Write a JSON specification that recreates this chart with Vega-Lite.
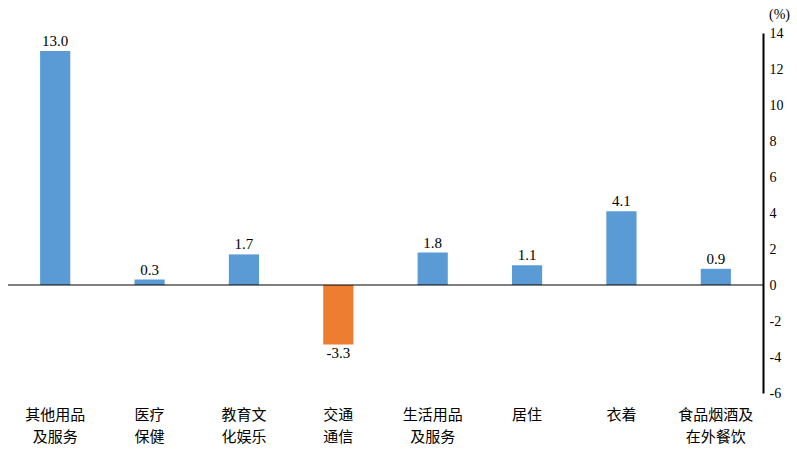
{
  "$schema": "https://vega.github.io/schema/vega-lite/v6.json",
  "width": 755,
  "height": 360,
  "autosize": "none",
  "padding": {"left": 8, "top": 33, "right": 34, "bottom": 58},
  "background": "white",
  "data": {
    "values": [
      {"cat": "其他用品|及服务", "v": 13.0},
      {"cat": "医疗|保健", "v": 0.3},
      {"cat": "教育文|化娱乐", "v": 1.7},
      {"cat": "交通|通信", "v": -3.3},
      {"cat": "生活用品|及服务", "v": 1.8},
      {"cat": "居住", "v": 1.1},
      {"cat": "衣着", "v": 4.1},
      {"cat": "食品烟酒及|在外餐饮", "v": 0.9}
    ]
  },
  "encoding": {
    "x": {
      "field": "cat", "type": "nominal", "sort": null, "title": null,
      "scale": {"paddingInner": 0.68, "paddingOuter": 0.34},
      "axis": {
        "labelExpr": "split(datum.label, '|')",
        "labelAngle": 0, "domain": false, "ticks": false,
        "labelPadding": 14, "labelFontSize": 15, "labelLineHeight": 22,
        "labelFont": "Noto Sans CJK SC", "labelColor": "black"
      }
    },
    "y": {
      "field": "v", "type": "quantitative",
      "scale": {"domain": [-6, 14], "nice": false},
      "axis": {
        "orient": "right", "values": [-6, -4, -2, 0, 2, 4, 6, 8, 10, 12, 14],
        "grid": false, "ticks": false, "domainColor": "black", "domainWidth": 2,
        "labelFontSize": 14, "labelColor": "black", "labelPadding": 6,
        "labelFont": "Liberation Serif",
        "title": "(%)", "titleAngle": 0, "titleFontSize": 14, "titleFontWeight": "normal",
        "titleFont": "Liberation Serif",
        "titleAnchor": "end", "titleAlign": "center", "titleBaseline": "bottom",
        "titleX": 16, "titleY": -12
      }
    }
  },
  "layer": [
    {
      "mark": {"type": "bar"},
      "encoding": {
        "color": {
          "condition": {"test": "datum.v < 0", "value": "#ED7D31"},
          "value": "#5B9BD5"
        }
      }
    },
    {
      "data": {"values": [{"z": 0}]},
      "mark": {"type": "rule", "color": "black", "strokeWidth": 1.2},
      "encoding": {"y": {"field": "z", "type": "quantitative"}, "x": {"value": 0}, "x2": {"value": 755}}
    },
    {
      "transform": [{"filter": "datum.v >= 0"}],
      "mark": {"type": "text", "baseline": "bottom", "dy": -2, "fontSize": 15, "font": "Liberation Serif"},
      "encoding": {"text": {"field": "v", "format": ".1f"}}
    },
    {
      "transform": [{"filter": "datum.v < 0"}],
      "mark": {"type": "text", "baseline": "top", "dy": 2, "fontSize": 15, "font": "Liberation Serif"},
      "encoding": {"text": {"field": "v", "format": ".1f"}}
    }
  ],
  "config": {"view": {"stroke": null}, "locale": {"number": {"decimal": ".", "thousands": ",", "grouping": [3], "currency": ["", ""], "minus": "-"}}}
}
